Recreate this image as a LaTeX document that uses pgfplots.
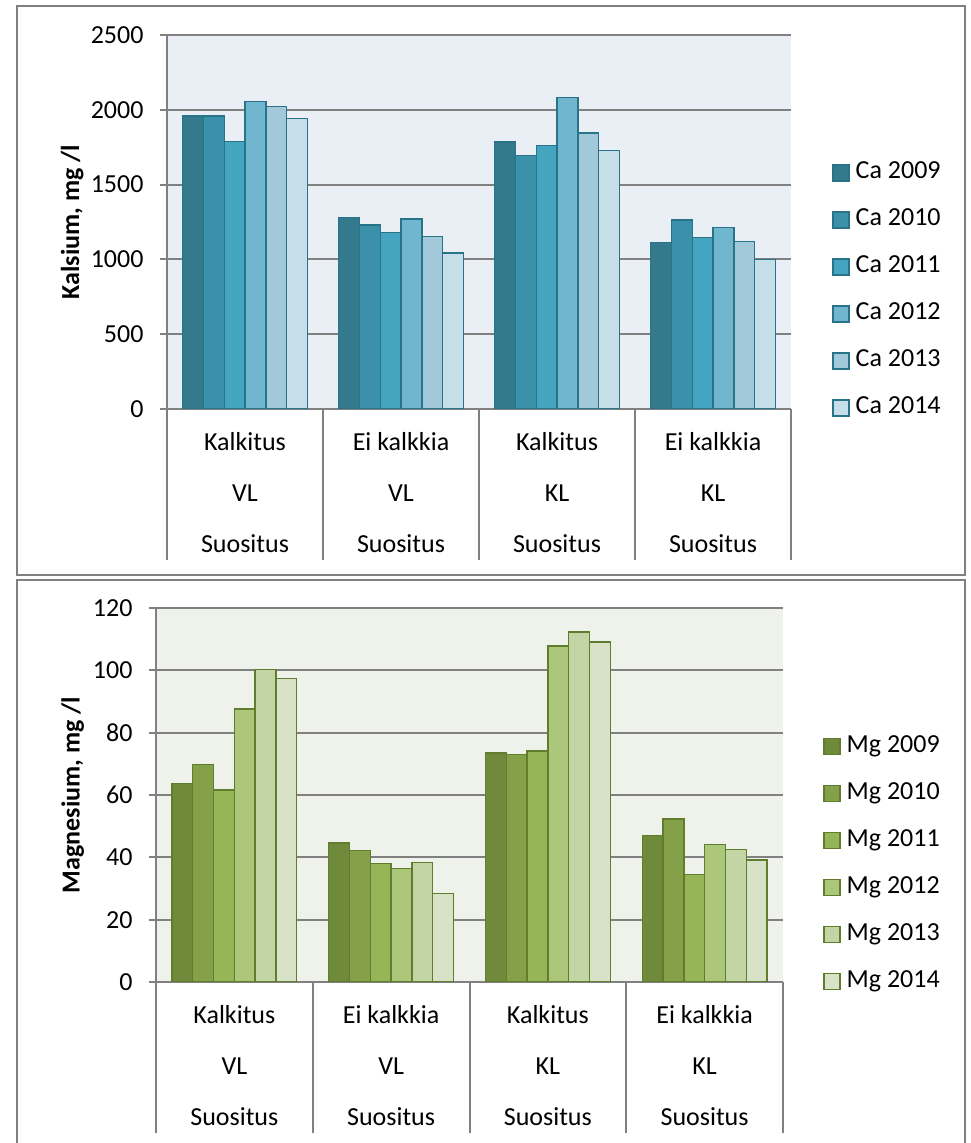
\documentclass[border=0pt]{standalone}
\usepackage{fontspec}
\setmainfont{Carlito}
\usepackage{pgfplots}
\pgfplotsset{compat=1.18}
\usepackage{pgfplotstable}

\definecolor{gridgray}{RGB}{128,128,128}
\definecolor{framegray}{RGB}{128,128,128}
\definecolor{cabg}{RGB}{233,239,245}
\definecolor{mgbg}{RGB}{239,242,234}
\definecolor{caedge}{RGB}{40,115,135}
\definecolor{mgedge}{RGB}{95,125,45}
\definecolor{ca2009}{RGB}{50,122,140}
\definecolor{ca2010}{RGB}{60,145,170}
\definecolor{ca2011}{RGB}{67,165,192}
\definecolor{ca2012}{RGB}{112,182,206}
\definecolor{ca2013}{RGB}{162,201,218}
\definecolor{ca2014}{RGB}{197,222,232}
\definecolor{mg2009}{RGB}{110,138,58}
\definecolor{mg2010}{RGB}{132,161,74}
\definecolor{mg2011}{RGB}{149,181,86}
\definecolor{mg2012}{RGB}{172,198,122}
\definecolor{mg2013}{RGB}{196,213,165}
\definecolor{mg2014}{RGB}{216,226,198}

% kalsium, mg/l
\pgfplotstableread{
g y2009 y2010 y2011 y2012 y2013 y2014
0 1958 1958 1788 2057 2022 1940
1 1281 1230 1179 1270 1152 1043
2 1786 1695 1762 2082 1844 1726
3 1114 1263 1145 1212 1119 999
}\catable

% magnesium, mg/l
\pgfplotstableread{
g y2009 y2010 y2011 y2012 y2013 y2014
0 63.7 69.7 61.6 87.6 100.2 97.3
1 44.6 42.1 38.1 36.5 38.4 28.3
2 73.5 73.0 74.1 107.8 112.3 109.1
3 47.1 52.3 34.4 44.2 42.6 39.1
}\mgtable

\pgfplotsset{
  kbars/.style={
    scale only axis,
    height=374pt,
    ybar=0pt, bar width=20.8pt,
    xmin=-0.5, xmax=3.5, ymin=0,
    axis lines*=left,
    axis line style={draw=gridgray, line width=2pt},
    ymajorgrids,
    grid style={draw=gridgray, line width=2pt},
    xtick={0,1,2,3},
    xticklabels={{Kalkitus\\VL\\Suositus},{Ei kalkkia\\VL\\Suositus},
                 {Kalkitus\\KL\\Suositus},{Ei kalkkia\\KL\\Suositus}},
    x tick style={draw=none},
    xticklabel style={align=center, anchor=north, inner sep=0pt,
      font=\fontsize{26}{51}\selectfont, yshift=-16pt},
    extra x ticks={-0.5,0.5,1.5,2.5,3.5},
    extra x tick labels={},
    extra x tick style={grid=none, tick align=outside,
      major tick length=151pt,
      x tick style={draw=gridgray, line width=2pt}},
    y tick style={draw=gridgray, line width=2pt},
    tick align=outside, major tick length=7pt,
    yticklabel style={font=\fontsize{26}{30}\selectfont, xshift=-13pt},
    /pgf/number format/assume math mode=true,
    /pgf/number format/1000 sep={},
    ylabel style={anchor=center, font=\bfseries\fontsize{26}{30}\selectfont},
    legend style={draw=none, fill=none, inner sep=0pt, anchor=west,
      row sep=26pt, column sep=6pt,
      nodes={inner sep=0pt, text height=16pt, text depth=5pt,
        font=\fontsize{26}{30}\selectfont}},
    legend cell align=left,
    legend image code/.code={\draw[#1, line width=1.5pt] (0pt,-8pt) rectangle (16pt,8pt);},
  },
}

\begin{document}
\begin{tikzpicture}
\useasboundingbox (0,0) rectangle (971pt,1143pt);
\fill[white] (0,0) rectangle (971pt,1143pt);
\draw[framegray, line width=2pt] (17pt,1137pt) rectangle (965pt,568pt);
\draw[framegray, line width=2pt] (17pt,563pt) rectangle (965pt,-20pt);

\begin{axis}[kbars,
    at={(167pt,734pt)}, width=624pt,
    ymax=2500, ytick={0,500,...,2500},
    axis background/.style={fill=cabg},
    ylabel={Kalsium, mg /l},
    ylabel style={at={(axis description cs:-0.152,0.5)}},
    legend style={at={(1.0657,0.317)}},
  ]
  \addplot[fill=ca2009, draw=caedge, line width=1.4pt] table[x=g,y=y2009]{\catable};
  \addplot[fill=ca2010, draw=caedge, line width=1.4pt] table[x=g,y=y2010]{\catable};
  \addplot[fill=ca2011, draw=caedge, line width=1.4pt] table[x=g,y=y2011]{\catable};
  \addplot[fill=ca2012, draw=caedge, line width=1.4pt] table[x=g,y=y2012]{\catable};
  \addplot[fill=ca2013, draw=caedge, line width=1.4pt] table[x=g,y=y2013]{\catable};
  \addplot[fill=ca2014, draw=caedge, line width=1.4pt] table[x=g,y=y2014]{\catable};
  \legend{Ca 2009,Ca 2010,Ca 2011,Ca 2012,Ca 2013,Ca 2014}
\end{axis}

\begin{axis}[kbars,
    at={(156pt,161pt)}, width=627pt,
    ymax=120, ytick={0,20,...,120},
    axis background/.style={fill=mgbg},
    ylabel={Magnesium, mg /l},
    ylabel style={at={(axis description cs:-0.133,0.5)}},
    legend style={at={(1.0638,0.3155)}},
  ]
  \addplot[fill=mg2009, draw=mgedge, line width=1.4pt] table[x=g,y=y2009]{\mgtable};
  \addplot[fill=mg2010, draw=mgedge, line width=1.4pt] table[x=g,y=y2010]{\mgtable};
  \addplot[fill=mg2011, draw=mgedge, line width=1.4pt] table[x=g,y=y2011]{\mgtable};
  \addplot[fill=mg2012, draw=mgedge, line width=1.4pt] table[x=g,y=y2012]{\mgtable};
  \addplot[fill=mg2013, draw=mgedge, line width=1.4pt] table[x=g,y=y2013]{\mgtable};
  \addplot[fill=mg2014, draw=mgedge, line width=1.4pt] table[x=g,y=y2014]{\mgtable};
  \legend{Mg 2009,Mg 2010,Mg 2011,Mg 2012,Mg 2013,Mg 2014}
\end{axis}
\end{tikzpicture}
\end{document}
